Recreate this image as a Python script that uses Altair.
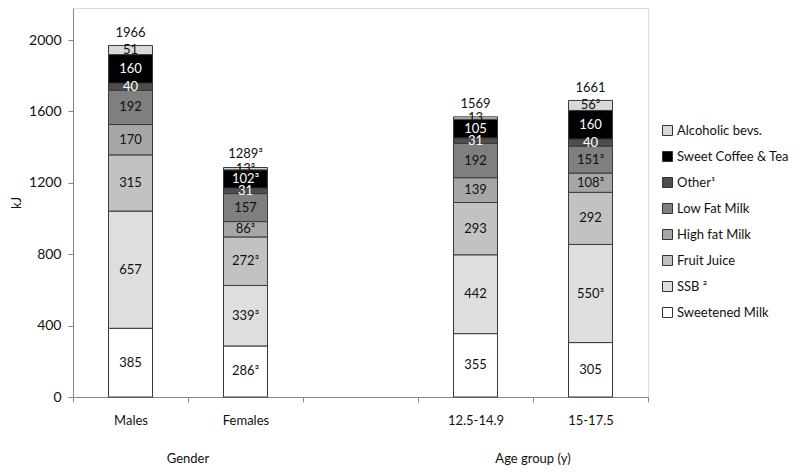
import altair as alt
import pandas as pd

# ---- data ----
slots = ["Males", "Females", " ", "12.5-14.9", "15-17.5"]
categories = ["Males", "Females", "12.5-14.9", "15-17.5"]
beverages = ["Sweetened Milk", "SSB ²", "Fruit Juice", "High fat Milk",
             "Low Fat Milk", "Other¹", "Sweet Coffee & Tea", "Alcoholic bevs."]

males = [385, 657, 315, 170, 192, 40, 160, 51]
females = [286, 339, 272, 86, 157, 31, 102, 13]
age_12_14 = [355, 442, 293, 139, 192, 31, 105, 13]
age_15_17 = [305, 550, 292, 108, 151, 40, 160, 56]

males_lab = ["385", "657", "315", "170", "192", "40", "160", "51"]
females_lab = ["286³", "339³", "272³", "86³", "157", "31", "102³", "13³"]
age_12_14_lab = ["355", "442", "293", "139", "192", "31", "105", "13"]
age_15_17_lab = ["305", "550³", "292", "108³", "151³", "40", "160", "56³"]

totals = [1966, 1289, 1569, 1661]
total_labels = ["1966", "1289³", "1569", "1661"]

group_labels = ["Gender", "Age group (y)"]
group_anchor = ["Females", "15-17.5"]

colors = ["#ffffff", "#dedede", "#c2c2c2", "#a6a6a6",
          "#7f7f7f", "#4d4d4d", "#000000", "#d9d9d9"]

# ---- tables ----
rows = []
for cat, vals, labs in zip(categories,
                           [males, females, age_12_14, age_15_17],
                           [males_lab, females_lab, age_12_14_lab, age_15_17_lab]):
    for i, (b, v, l) in enumerate(zip(beverages, vals, labs)):
        rows.append({"cat": cat, "beverage": b, "value": v, "label": l, "idx": i})
df = pd.DataFrame(rows)
tot_df = pd.DataFrame({"cat": categories, "total": totals, "label": total_labels})
grp_df = pd.DataFrame({"cat": group_anchor, "label": group_labels})

FONT = "Lato"
AXIS_COL = "#868686"

xscale = alt.Scale(domain=slots, paddingInner=0, paddingOuter=0)
yscale = alt.Scale(domain=[0, 2180], nice=False)

base = alt.Chart(df).transform_stack(
    stack="value", groupby=["cat"], as_=["y0", "y1"],
    sort=[alt.SortField("idx", order="ascending")]
).transform_calculate(mid="(datum.y0 + datum.y1) / 2")

bars = base.mark_bar(width=44, stroke="#3a3a3a", strokeWidth=1).encode(
    x=alt.X("cat:N", scale=xscale, title=None,
            axis=alt.Axis(labelAngle=0, tickBand="extent", tickSize=5,
                          labelPadding=12, labelFont=FONT, labelFontSize=13,
                          labelColor="#111", domainColor=AXIS_COL,
                          tickColor=AXIS_COL, grid=False)),
    y=alt.Y("y0:Q", scale=yscale, title="kJ",
            axis=alt.Axis(values=[0, 400, 800, 1200, 1600, 2000], format="d",
                          tickSize=5, labelPadding=7, labelFont=FONT,
                          labelFontSize=14, labelColor="#111",
                          domainColor=AXIS_COL, tickColor=AXIS_COL, grid=False,
                          titleFont=FONT, titleFontSize=13,
                          titleFontWeight="normal", titleColor="#111",
                          titleX=-50, titleBaseline="bottom")),
    y2="y1:Q",
    color=alt.Color("beverage:N",
                    scale=alt.Scale(domain=list(reversed(beverages)),
                                    range=list(reversed(colors))),
                    legend=alt.Legend(title=None, orient="none", legendX=588,
                                      legendY=116, symbolType="square",
                                      symbolSize=100, symbolStrokeColor="#333",
                                      symbolStrokeWidth=1, labelFont=FONT,
                                      labelFontSize=13, labelColor="#111",
                                      labelOffset=3, rowPadding=11,
                                      labelLimit=300, symbolOpacity=1)),
)

seg_text = base.mark_text(font=FONT, fontSize=13, baseline="middle").encode(
    x=alt.X("cat:N", scale=xscale),
    y=alt.Y("mid:Q", scale=yscale),
    text="label:N",
    color=alt.condition(
        alt.FieldOneOfPredicate(field="beverage", oneOf=["Other¹", "Sweet Coffee & Tea"]),
        alt.value("white"), alt.value("#111")),
)

tot_text = alt.Chart(tot_df).mark_text(font=FONT, fontSize=13, baseline="bottom",
                                       dy=-6, color="#111").encode(
    x=alt.X("cat:N", scale=xscale),
    y=alt.Y("total:Q", scale=yscale),
    text="label:N",
)

grp_text = alt.Chart(grp_df).mark_text(font=FONT, fontSize=13, baseline="middle",
                                       color="#111").encode(
    x=alt.X("cat:N", scale=xscale, bandPosition=0),
    y=alt.value(451),
    text="label:N",
)

chart = alt.layer(bars, seg_text, tot_text, grp_text).properties(
    width=575, height=389,
    autosize=alt.AutoSizeParams(type="none"),
    padding={"left": 65, "top": 0, "right": 144, "bottom": 68},
).configure_view(stroke=None).configure(background="white")

chart.save("out.html", embed_options={"renderer": "svg", "actions": False})
